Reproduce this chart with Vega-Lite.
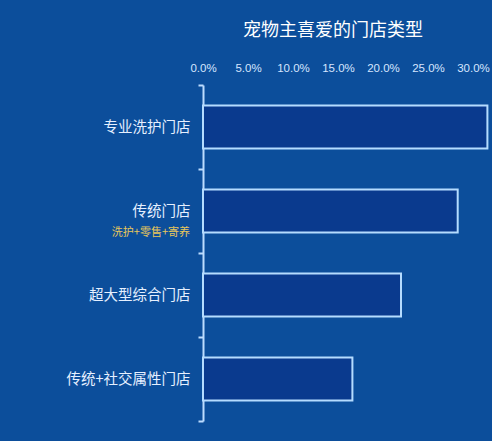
{
  "$schema": "https://vega.github.io/schema/vega-lite/v6.json",
  "autosize": "none",
  "width": 288,
  "height": 336,
  "padding": {"left": 203, "top": 85, "right": 1, "bottom": 20},
  "background": "#0c4e9b",
  "title": {
    "text": "宠物主喜爱的门店类型",
    "fontSize": 18,
    "fontWeight": "normal",
    "font": "Noto Sans CJK SC",
    "color": "#ffffff",
    "offset": 22,
    "dx": -14
  },
  "data": {
    "values": [
      {"type": "专业洗护门店", "share": 0.316, "sub": ""},
      {"type": "传统门店", "share": 0.283, "sub": "洗护+零售+寄养"},
      {"type": "超大型综合门店", "share": 0.220, "sub": ""},
      {"type": "传统+社交属性门店", "share": 0.166, "sub": ""}
    ]
  },
  "encoding": {
    "y": {
      "field": "type",
      "type": "nominal",
      "sort": null,
      "title": null,
      "scale": {"paddingInner": 0, "paddingOuter": 0},
      "axis": {
        "tickBand": "extent",
        "domainColor": "#bcdcff",
        "domainWidth": 2,
        "tickColor": "#bcdcff",
        "tickWidth": 2,
        "tickSize": 5,
        "labelPadding": 8,
        "labelColor": "#e6f0ff",
        "labelFontSize": 14.5,
        "labelFont": "Noto Sans CJK SC"
      }
    }
  },
  "layer": [
    {
      "mark": {
        "type": "bar",
        "height": {"band": 0.51},
        "fill": "#0a3a8e",
        "stroke": "#b5dcff",
        "strokeWidth": 2
      },
      "encoding": {
        "x": {
          "field": "share",
          "type": "quantitative",
          "title": null,
          "scale": {"domain": [0, 0.32], "nice": false},
          "axis": {
            "orient": "top",
            "values": [0, 0.05, 0.1, 0.15, 0.2, 0.25, 0.3],
            "format": ".1%",
            "domain": false,
            "ticks": false,
            "grid": false,
            "labelFlush": false,
            "labelPadding": 12,
            "labelColor": "#d6e6ff",
            "labelFontSize": 11.5,
            "labelFont": "Liberation Sans"
          }
        }
      }
    },
    {
      "mark": {
        "type": "text",
        "align": "right",
        "dx": -13,
        "dy": 22,
        "fontSize": 11,
        "font": "Noto Sans CJK SC",
        "color": "#e8c75a"
      },
      "encoding": {
        "x": {"datum": 0, "type": "quantitative"},
        "text": {"field": "sub"}
      }
    }
  ],
  "config": {"view": {"stroke": null}}
}
